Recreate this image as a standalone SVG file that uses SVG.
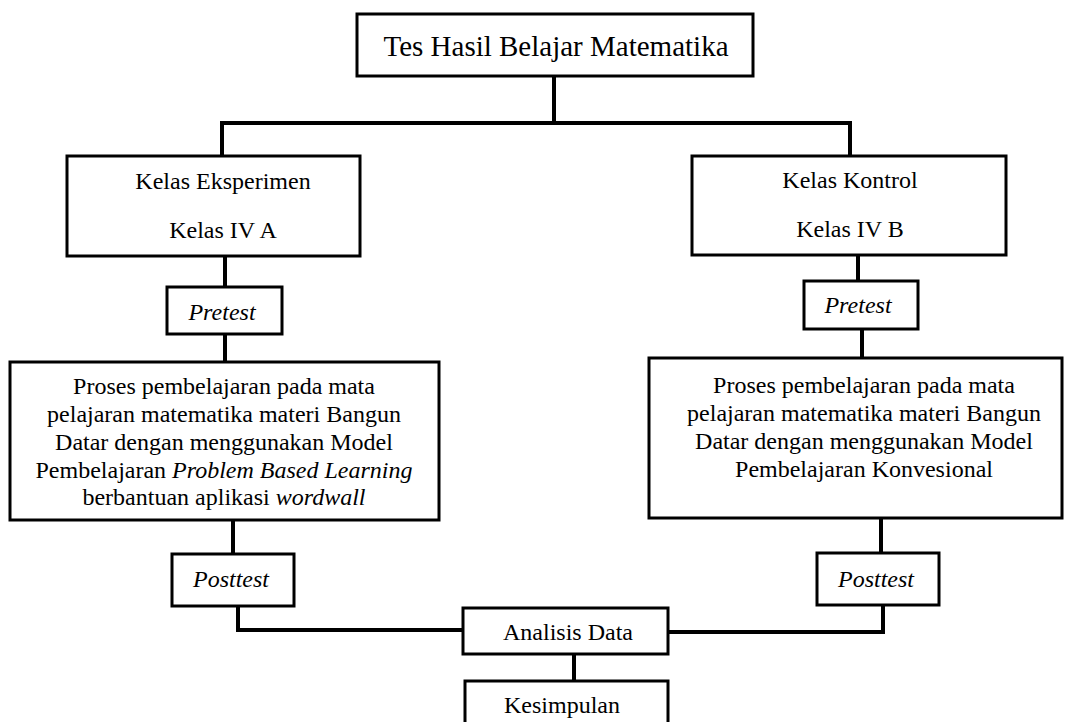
<svg xmlns="http://www.w3.org/2000/svg" width="1065" height="722" viewBox="0 0 1065 722">
<style>
.box{fill:#fff;stroke:#000;stroke-width:3}
.c{fill:none;stroke:#000;stroke-width:4;stroke-linejoin:miter;stroke-linecap:square}
text{font-family:"Liberation Serif","Times New Roman",serif;font-size:24px;fill:#000;text-anchor:middle}
.t{font-size:29px}
.i{font-style:italic}
</style>
<rect width="1065" height="722" fill="#fff"/>
<g id="connectors">
<line class="c" x1="554" y1="76" x2="554" y2="123"/>
<line class="c" x1="222" y1="123" x2="850" y2="123"/>
<line class="c" x1="222" y1="123" x2="222" y2="156"/>
<line class="c" x1="850" y1="123" x2="850" y2="156"/>
<line class="c" x1="225" y1="256" x2="225" y2="287"/>
<line class="c" x1="225" y1="334" x2="225" y2="362"/>
<line class="c" x1="858" y1="255" x2="858" y2="281"/>
<line class="c" x1="862" y1="329" x2="862" y2="358"/>
<line class="c" x1="233" y1="520" x2="233" y2="554"/>
<polyline class="c" points="238,606 238,630 463,630"/>
<line class="c" x1="881" y1="518" x2="881" y2="553"/>
<polyline class="c" points="883,605 883,632 668,632"/>
<line class="c" x1="574" y1="654" x2="574" y2="681"/>
</g>
<g id="tes">
<rect class="box" x="357" y="14" width="396" height="62"/>
<text class="t" x="556" y="56">Tes Hasil Belajar Matematika</text>
</g>
<g id="eksperimen">
<rect class="box" x="67" y="156" width="293" height="100"/>
<text x="223" y="189">Kelas Eksperimen</text>
<text x="223" y="238">Kelas IV A</text>
</g>
<g id="kontrol">
<rect class="box" x="692" y="156" width="314" height="99"/>
<text x="850" y="188">Kelas Kontrol</text>
<text x="850" y="237">Kelas IV B</text>
</g>
<g id="pretest-a">
<rect class="box" x="167" y="287" width="115" height="47"/>
<text class="i" x="222" y="320">Pretest</text>
</g>
<g id="pretest-b">
<rect class="box" x="804" y="281" width="114" height="48"/>
<text class="i" x="858" y="313">Pretest</text>
</g>
<g id="proses-a">
<rect class="box" x="10" y="362" width="429" height="158"/>
<text x="224" y="394">Proses pembelajaran pada mata</text>
<text x="224" y="422">pelajaran matematika materi Bangun</text>
<text x="224" y="450">Datar dengan menggunakan Model</text>
<text x="224" y="478">Pembelajaran <tspan class="i">Problem Based Learning</tspan></text>
<text x="224" y="505">berbantuan aplikasi <tspan class="i">wordwall</tspan></text>
</g>
<g id="proses-b">
<rect class="box" x="649" y="358" width="413" height="160"/>
<text x="864" y="393">Proses pembelajaran pada mata</text>
<text x="864" y="421">pelajaran matematika materi Bangun</text>
<text x="864" y="449">Datar dengan menggunakan Model</text>
<text x="864" y="477">Pembelajaran Konvesional</text>
</g>
<g id="posttest-a">
<rect class="box" x="172" y="554" width="122" height="52"/>
<text class="i" x="231" y="587">Posttest</text>
</g>
<g id="posttest-b">
<rect class="box" x="817" y="553" width="122" height="52"/>
<text class="i" x="876" y="587">Posttest</text>
</g>
<g id="analisis">
<rect class="box" x="463" y="608" width="205" height="46"/>
<text x="568" y="640">Analisis Data</text>
</g>
<g id="kesimpulan">
<rect class="box" x="465" y="681" width="203" height="60"/>
<text x="562" y="713">Kesimpulan</text>
</g>
</svg>
